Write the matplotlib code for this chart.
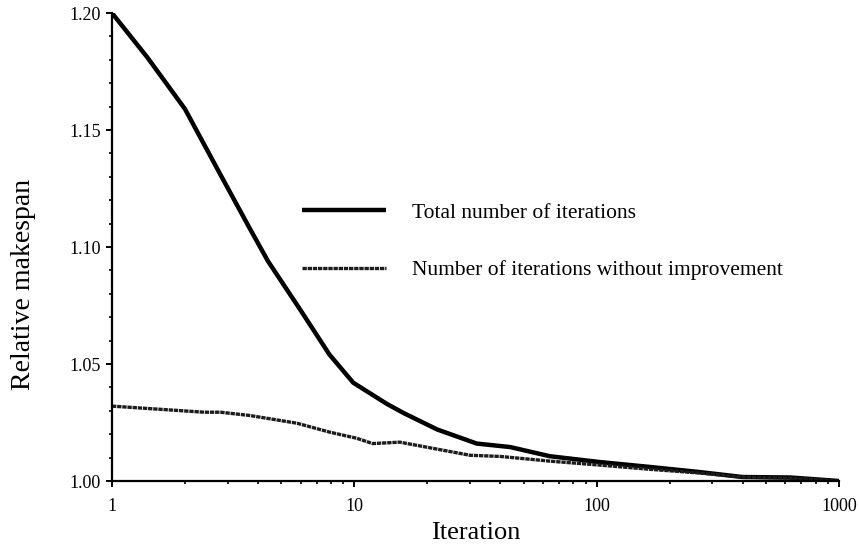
import matplotlib
matplotlib.use("Agg")
import matplotlib.pyplot as plt
from matplotlib.ticker import FixedLocator, MultipleLocator, FormatStrFormatter

plt.rcParams['font.family'] = ['Liberation Serif', 'DejaVu Serif']

# values
total_x = [1, 1.4, 2, 2.8, 3.7, 4.4, 6, 7.9, 9.9, 13.6, 16, 22, 32, 44, 64, 103, 166, 267, 400, 630, 1000]
total_y = [1.200, 1.181, 1.159, 1.131, 1.108, 1.094, 1.073, 1.054, 1.042, 1.033, 1.029, 1.022,
           1.016, 1.0145, 1.0106, 1.0081, 1.006, 1.0038, 1.0017, 1.0015, 1.000]

noimp_x = [1, 1.4, 2.4, 2.8, 3.7, 5.8, 7.9, 10.2, 11.9, 15.4, 21, 30, 40, 64, 103, 166, 267, 400, 630, 1000]
noimp_y = [1.032, 1.031, 1.0294, 1.0294, 1.028, 1.0247, 1.0209, 1.0183, 1.016, 1.0166, 1.014,
           1.011, 1.0105, 1.0085, 1.0068, 1.005, 1.0034, 1.0017, 1.0012, 1.000]

labels = ['Total number of iterations', 'Number of iterations without improvement']

fig = plt.figure(figsize=(8.6, 5.44), dpi=100)
ax = fig.add_axes([0.1302, 0.1158, 0.8454, 0.8603])

ax.plot(total_x, total_y, color='black', lw=3.2, solid_capstyle='butt', label=labels[0])
# the second curve is printed with a fine dotted texture
ax.plot(noimp_x, noimp_y, color='#1c1c1c', lw=2.4, linestyle=(0, (1.3, 0.25)), label=labels[1])

ax.set_xscale('log')
ax.set_xlim(1, 1000)
ax.set_ylim(1.0, 1.2)

ax.xaxis.set_major_locator(FixedLocator([1, 10, 100, 1000]))
ax.set_xticklabels(['1', '10', '100', '1000'])
ax.yaxis.set_major_locator(MultipleLocator(0.05))
ax.yaxis.set_minor_locator(MultipleLocator(0.01))
ax.yaxis.set_major_formatter(FormatStrFormatter('%.2f'))

for side in ['top', 'right']:
    ax.spines[side].set_visible(False)
for side in ['left', 'bottom']:
    ax.spines[side].set_linewidth(1.6)

ax.tick_params(which='major', direction='out', length=4.5, width=1.4, labelsize=13)
ax.tick_params(which='minor', direction='out', length=2.5, width=1.2)
ax.tick_params(axis='x', which='major', pad=8)

ax.set_xlabel('Iteration', fontsize=19, labelpad=5)
ax.set_ylabel('Relative makespan', fontsize=20)
ax.yaxis.set_label_coords(-0.104, 0.42)

ax.legend(loc='center left', bbox_to_anchor=(0.261, 0.512), frameon=False,
          fontsize=15.5, handlelength=3.9, handletextpad=1.2, labelspacing=1.75,
          borderpad=0, borderaxespad=0)

fig.savefig('out.png', dpi=100, facecolor='white')
